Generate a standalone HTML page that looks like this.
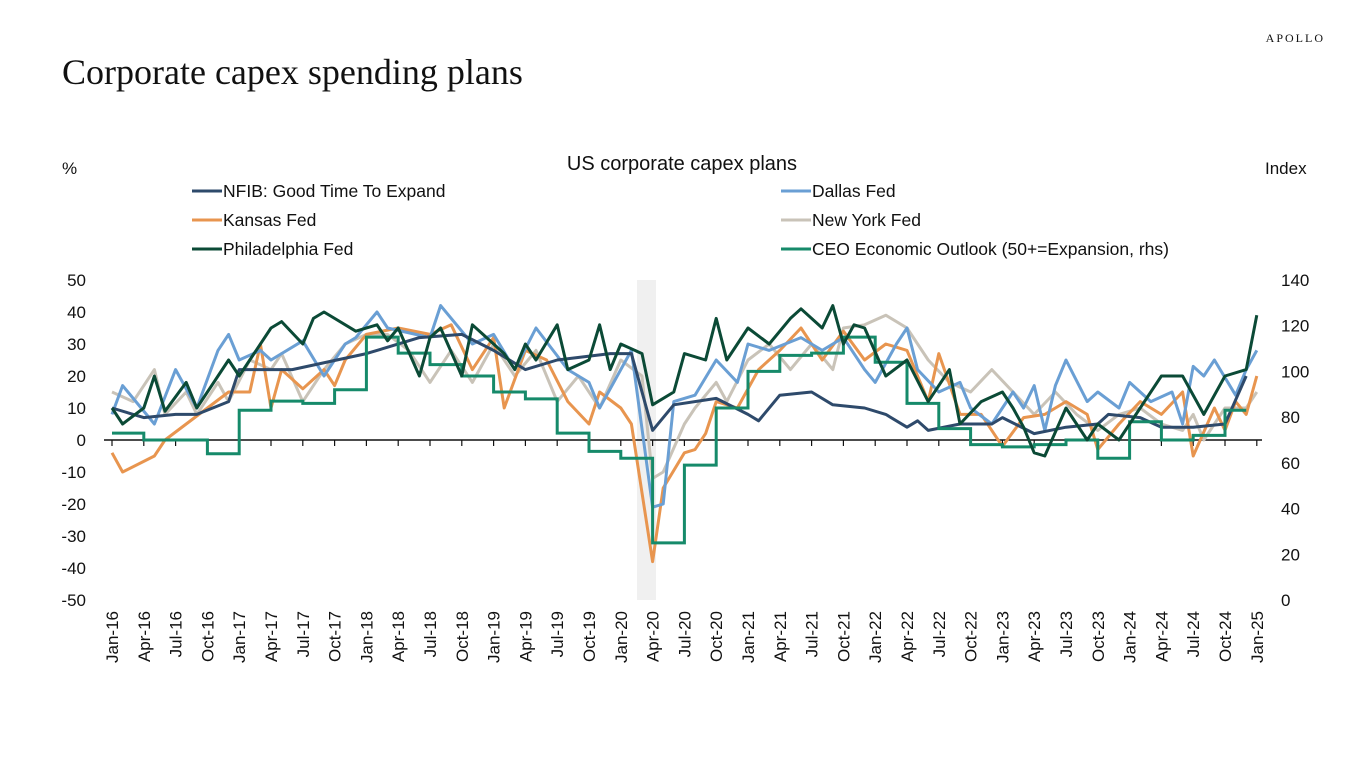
<!DOCTYPE html>
<html><head><meta charset="utf-8"><style>
body{margin:0;width:1366px;height:768px;background:#fff;overflow:hidden;font-family:"Liberation Sans",sans-serif}
</style></head><body>
<svg id="s" width="1366" height="768" xmlns="http://www.w3.org/2000/svg" font-family="Liberation Sans, sans-serif">
<text x="1325" y="42" font-family="Liberation Serif, serif" font-size="12" letter-spacing="2" text-anchor="end" fill="#111">APOLLO</text>
<text x="62" y="84" font-family="Liberation Serif, serif" font-size="36" fill="#111">Corporate capex spending plans</text>
<text x="682" y="170" font-size="20" text-anchor="middle" fill="#111">US corporate capex plans</text>
<text x="62" y="174" font-size="17" fill="#111">%</text>
<text x="1265" y="174" font-size="17" fill="#111">Index</text>
<rect x="637" y="280" width="19" height="320" fill="#f0f0f0"/>
<g id="g"></g>
</svg>
<script>
const g=document.getElementById('g');const NS='http://www.w3.org/2000/svg';
function el(t,a,txt){const e=document.createElementNS(NS,t);for(const k in a)e.setAttribute(k,a[k]);if(txt!==undefined)e.textContent=txt;g.appendChild(e);return e;}
const X=m=>112+m*10.6;const YL=v=>440-v*3.2;const YR=v=>600-v*320/140;
const ms=['Jan','Apr','Jul','Oct'];
for(let v=-50;v<=50;v+=10)el('text',{x:86,y:YL(v)+6,'font-size':17,'text-anchor':'end',fill:'#111'},v);
for(let v=0;v<=140;v+=20)el('text',{x:1281,y:YR(v)+6,'font-size':17,fill:'#111'},v);
el('line',{x1:104,y1:440,x2:1262,y2:440,stroke:'#111','stroke-width':1.5});
for(let m=0;m<=108;m+=3){el('line',{x1:X(m),y1:440,x2:X(m),y2:446,stroke:'#111','stroke-width':1.2});
const lbl=ms[(m/3)%4]+'-'+(16+Math.floor(m/12));
el('text',{x:0,y:0,'font-size':17,'text-anchor':'end',fill:'#111',transform:`translate(${X(m)+6},611) rotate(-90)`},lbl);}
function M(s){const [mo,yr]=s.split('-');const i=['Jan','Feb','Mar','Apr','May','Jun','Jul','Aug','Sep','Oct','Nov','Dec'].indexOf(mo);return (+yr-16)*12+i;}
function series(kp,col,Y){const pts=[];for(let i=0;i<kp.length;i+=2)pts.push([M(kp[i]),kp[i+1]]);
let d='';pts.forEach((p,i)=>d+=(i?'L':'M')+X(p[0]).toFixed(1)+','+Y(p[1]).toFixed(1));
el('path',{d:d,fill:'none',stroke:col,'stroke-width':3,'stroke-linejoin':'round'});}
const NFIB=['Jan-16',10,'Apr-16',7,'Jul-16',8,'Sep-16',8,'Dec-16',12,'Jan-17',22,'Jun-17',22,'Jan-18',27,'Jun-18',32,'Oct-18',33,'Jan-19',28,'Apr-19',22,'Jul-19',25,'Dec-19',27,'Feb-20',27,'Apr-20',3,'Jun-20',11,'Oct-20',13,'Jan-21',8,'Feb-21',6,'Apr-21',14,'Jul-21',15,'Sep-21',11,'Dec-21',10,'Feb-22',8,'Apr-22',4,'May-22',6,'Jun-22',3,'Sep-22',5,'Dec-22',5,'Jan-23',7,'Apr-23',2,'Jul-23',4,'Oct-23',5,'Nov-23',8,'Feb-24',7,'Apr-24',4,'Jul-24',4,'Oct-24',5,'Dec-24',20];
const DAL=['Jan-16',8,'Feb-16',17,'May-16',5,'Jul-16',22,'Sep-16',10,'Nov-16',28,'Dec-16',33,'Jan-17',25,'Mar-17',28,'Apr-17',25,'Jul-17',31,'Sep-17',20,'Nov-17',30,'Dec-17',32,'Feb-18',40,'Mar-18',35,'Jul-18',32,'Aug-18',42,'Nov-18',30,'Jan-19',33,'Mar-19',22,'May-19',35,'Aug-19',22,'Oct-19',18,'Nov-19',10,'Feb-20',28,'Apr-20',-21,'May-20',-20,'Jun-20',12,'Aug-20',14,'Oct-20',25,'Dec-20',18,'Jan-21',30,'Mar-21',28,'Jun-21',32,'Aug-21',28,'Oct-21',32,'Dec-21',22,'Jan-22',18,'Mar-22',30,'Apr-22',35,'May-22',22,'Jul-22',15,'Sep-22',18,'Oct-22',10,'Dec-22',5,'Feb-23',15,'Mar-23',10,'Apr-23',17,'May-23',3,'Jun-23',17,'Jul-23',25,'Sep-23',12,'Oct-23',15,'Dec-23',10,'Jan-24',18,'Mar-24',12,'May-24',15,'Jun-24',5,'Jul-24',23,'Aug-24',20,'Sep-24',25,'Nov-24',14,'Dec-24',22,'Jan-25',28];
const KAN=['Jan-16',-4,'Feb-16',-10,'May-16',-5,'Jun-16',0,'Aug-16',5,'Oct-16',10,'Dec-16',15,'Feb-17',15,'Mar-17',30,'Apr-17',10,'May-17',22,'Jul-17',16,'Sep-17',22,'Oct-17',17,'Nov-17',25,'Jan-18',33,'Apr-18',35,'Jul-18',33,'Sep-18',36,'Nov-18',22,'Jan-19',32,'Feb-19',10,'Apr-19',28,'Jun-19',25,'Aug-19',12,'Oct-19',5,'Nov-19',15,'Jan-20',10,'Feb-20',5,'Apr-20',-38,'May-20',-15,'Jul-20',-4,'Aug-20',-3,'Sep-20',2,'Oct-20',12,'Dec-20',10,'Feb-21',22,'Apr-21',28,'Jun-21',35,'Aug-21',25,'Oct-21',34,'Dec-21',25,'Feb-22',30,'Apr-22',28,'Jun-22',12,'Jul-22',27,'Sep-22',8,'Nov-22',8,'Jan-23',-2,'Mar-23',7,'May-23',8,'Jul-23',12,'Sep-23',8,'Oct-23',-3,'Dec-23',5,'Feb-24',12,'Apr-24',8,'Jun-24',15,'Jul-24',-5,'Sep-24',10,'Oct-24',3,'Nov-24',12,'Dec-24',8,'Jan-25',20];
const NY=['Jan-16',15,'Mar-16',12,'May-16',22,'Jun-16',8,'Aug-16',15,'Sep-16',8,'Nov-16',18,'Dec-16',12,'Feb-17',25,'Apr-17',22,'May-17',27,'Jul-17',12,'Sep-17',22,'Nov-17',30,'Jan-18',33,'Mar-18',33,'May-18',28,'Jul-18',18,'Sep-18',28,'Nov-18',18,'Jan-19',30,'Mar-19',20,'May-19',28,'Jul-19',12,'Sep-19',20,'Nov-19',10,'Jan-20',25,'Mar-20',20,'Apr-20',-12,'May-20',-10,'Jul-20',5,'Aug-20',10,'Oct-20',18,'Nov-20',12,'Jan-21',25,'Mar-21',30,'May-21',22,'Jul-21',30,'Sep-21',22,'Oct-21',35,'Dec-21',36,'Feb-22',39,'Apr-22',35,'Jun-22',25,'Aug-22',18,'Oct-22',15,'Dec-22',22,'Feb-23',15,'Apr-23',8,'Jun-23',15,'Aug-23',8,'Oct-23',3,'Dec-23',8,'Feb-24',10,'Apr-24',5,'Jun-24',3,'Jul-24',8,'Aug-24',0,'Oct-24',10,'Dec-24',10,'Jan-25',15];
const PHI=['Jan-16',10,'Feb-16',5,'Apr-16',10,'May-16',20,'Jun-16',9,'Aug-16',18,'Sep-16',10,'Nov-16',20,'Dec-16',25,'Jan-17',20,'Apr-17',35,'May-17',37,'Jul-17',30,'Aug-17',38,'Sep-17',40,'Oct-17',38,'Dec-17',34,'Feb-18',36,'Mar-18',31,'Apr-18',35,'Jun-18',20,'Jul-18',32,'Aug-18',35,'Oct-18',20,'Nov-18',36,'Dec-18',33,'Feb-19',27,'Mar-19',22,'Apr-19',30,'May-19',25,'Jul-19',36,'Aug-19',22,'Oct-19',25,'Nov-19',36,'Dec-19',22,'Jan-20',30,'Mar-20',27,'Apr-20',11,'Jun-20',15,'Jul-20',27,'Sep-20',25,'Oct-20',38,'Nov-20',25,'Jan-21',35,'Mar-21',30,'May-21',38,'Jun-21',41,'Aug-21',35,'Sep-21',42,'Oct-21',30,'Nov-21',36,'Dec-21',35,'Feb-22',20,'Apr-22',25,'Jun-22',12,'Aug-22',22,'Sep-22',5,'Nov-22',12,'Jan-23',15,'Feb-23',10,'Mar-23',4,'Apr-23',-4,'May-23',-5,'Jul-23',10,'Sep-23',0,'Oct-23',5,'Dec-23',0,'Feb-24',10,'Apr-24',20,'Jun-24',20,'Aug-24',8,'Oct-24',20,'Dec-24',22,'Jan-25',39];
const CEOq=[73,70,70,64,83,87,86,92,115,108,103,98,91,88,73,65,62,25,59,84,100,107,108,115,104,86,75,68,67,68,70,62,78,70,72,83];
let cd='';CEOq.forEach((v,i)=>{const x0=X(i*3),x1=X(Math.min(i*3+3,107));cd+=(i?'L':'M')+x0+','+YR(v)+'L'+x1+','+YR(v);});
series(NY,'#c9c3b8',YL);series(KAN,'#e8954f',YL);series(DAL,'#6a9fd4',YL);series(NFIB,'#2e4a6b',YL);
el('path',{d:cd,fill:'none',stroke:'#168a6a','stroke-width':3});
series(PHI,'#0b4a36',YL);
const L=[[192,191,'#2e4a6b','NFIB: Good Time To Expand'],[781,191,'#6a9fd4','Dallas Fed'],[192,220,'#e8954f','Kansas Fed'],[781,220,'#c9c3b8','New York Fed'],[192,249,'#0b4a36','Philadelphia Fed'],[781,249,'#168a6a','CEO Economic Outlook (50+=Expansion, rhs)']];
L.forEach(l=>{el('line',{x1:l[0],y1:l[1],x2:l[0]+30,y2:l[1],stroke:l[2],'stroke-width':3});el('text',{x:l[0]+31,y:l[1]+6,'font-size':17.5,fill:'#111'},l[3]);});
</script>
</body></html>
